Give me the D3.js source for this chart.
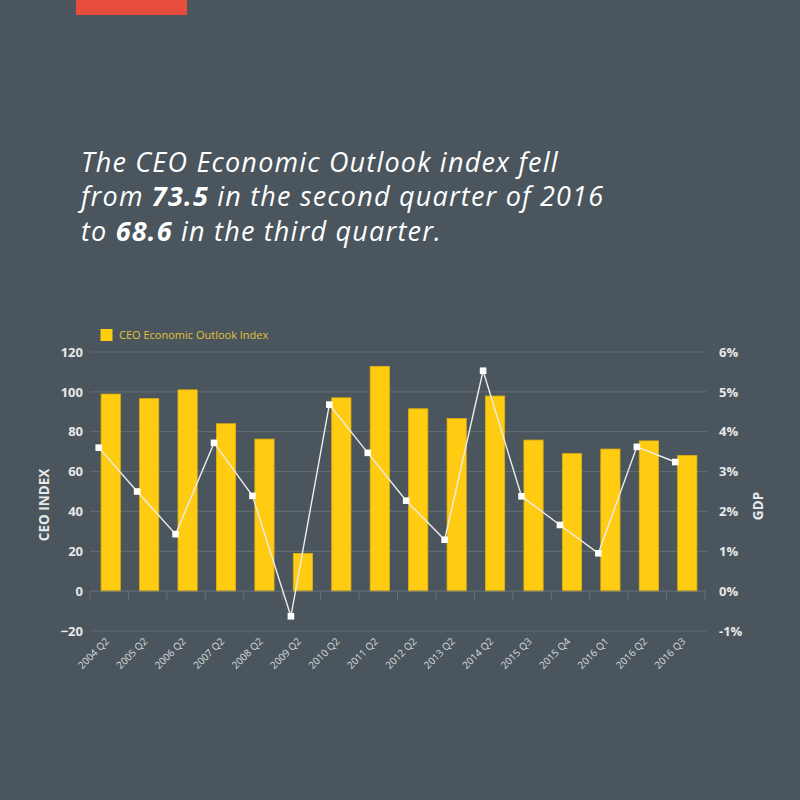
<!DOCTYPE html>
<html>
<head>
<meta charset="utf-8">
<script src="https://cdn.jsdelivr.net/npm/d3@7"></script>
<style>
  html, body { margin: 0; padding: 0; background: #4a555d; }
  svg { display: block; font-family: "Open Sans", sans-serif; }
</style>
</head>
<body>
<svg id="chart" width="800" height="800"></svg>
<script>
// data
const quarters = ["2004 Q2", "2005 Q2", "2006 Q2", "2007 Q2", "2008 Q2", "2009 Q2", "2010 Q2", "2011 Q2",
  "2012 Q2", "2013 Q2", "2014 Q2", "2015 Q3", "2015 Q4", "2016 Q1", "2016 Q2", "2016 Q3"];
const ceoIndex = [98.9, 96.6, 101.0, 84.0, 76.3, 18.9, 97.0, 112.8, 91.5, 86.6, 97.9, 75.8, 69.0, 71.3, 75.4, 68.1];
const gdp = [3.6, 2.5, 1.43, 3.72, 2.39, -0.63, 4.68, 3.47, 2.27, 1.29, 5.53, 2.38, 1.66, 0.95, 3.62, 3.24];
const leftTicks = [-20, 0, 20, 40, 60, 80, 100, 120];
const rightTicks = [-1, 0, 1, 2, 3, 4, 5, 6];
const legendLabel = "CEO Economic Outlook Index";

const svg = d3.select("#chart");

// red tab at the top
svg.append("rect")
  .attr("x", 76).attr("y", 0)
  .attr("width", 111).attr("height", 15)
  .attr("fill", "#e84c3d");

// headline
const lines = [
  [["The CEO Economic Outlook index fell", false]],
  [["from ", false], ["73.5", true], [" in the second quarter of 2016", false]],
  [["to ", false], ["68.6", true], [" in the third quarter.", false]]
];
lines.forEach((parts, i) => {
  const t = svg.append("text")
    .attr("x", 81).attr("y", 172 + i * 34.4)
    .attr("fill", "#ffffff")
    .style("font-size", "27px")
    .style("font-style", "italic")
    .style("letter-spacing", "1.2px");
  parts.forEach(p => {
    t.append("tspan").text(p[0]).style("font-weight", p[1] ? 700 : 400);
  });
});

// chart area
const x = d3.scaleBand().domain(quarters).range([91.5, 706.5]).paddingInner(0.5).paddingOuter(0.25);
const yL = d3.scaleLinear().domain([-20, 120]).range([631, 352]);
const yR = d3.scaleLinear().domain([-1, 6]).range([631, 352]);

const grid = svg.append("g");
grid.selectAll("line")
  .data(leftTicks.filter(d => d !== 0))
  .enter().append("line")
  .attr("x1", 90).attr("x2", 707)
  .attr("y1", d => yL(d)).attr("y2", d => yL(d))
  .attr("stroke", "#5f6a72").attr("stroke-width", 1.2);

// left axis labels
const leftAxis = svg.append("g")
  .attr("transform", "translate(83,0)")
  .call(d3.axisLeft(yL).tickValues(leftTicks).tickSize(0).tickPadding(0));
leftAxis.select(".domain").remove();
leftAxis.selectAll("text")
  .attr("fill", "#e8e8e8")
  .style("font-size", "13px").style("font-weight", 700)
  .style("font-family", "Open Sans, sans-serif");

// right axis labels
const rightAxis = svg.append("g")
  .attr("transform", "translate(719,0)")
  .call(d3.axisRight(yR).tickValues(rightTicks).tickSize(0).tickPadding(0).tickFormat(d => d + "%"));
rightAxis.select(".domain").remove();
rightAxis.selectAll("text")
  .attr("fill", "#e8e8e8")
  .style("font-size", "13px").style("font-weight", 700)
  .style("font-family", "Open Sans, sans-serif");

// axis titles
svg.append("text")
  .attr("transform", "translate(49,505) rotate(-90)")
  .attr("text-anchor", "middle")
  .attr("fill", "#e8e8e8")
  .style("font-size", "13.5px").style("font-weight", 700)
  .text("CEO INDEX");
svg.append("text")
  .attr("transform", "translate(763,506) rotate(-90)")
  .attr("text-anchor", "middle")
  .attr("fill", "#e8e8e8")
  .style("font-size", "13.5px").style("font-weight", 700)
  .text("GDP");

// bars
svg.append("g").selectAll("rect")
  .data(ceoIndex)
  .enter().append("rect")
  .attr("x", (d, i) => x(quarters[i]))
  .attr("width", x.bandwidth())
  .attr("y", d => yL(d))
  .attr("height", d => yL(0) - yL(d))
  .attr("fill", "#ffcc11")
  .attr("stroke", "#e0b10e").attr("stroke-width", 0.8);

// bottom axis with ticks between bars
const step = x.step();
const xAxis = svg.append("g")
  .attr("transform", `translate(0,${yL(0)})`)
  .call(d3.axisBottom(x).tickSize(0).tickFormat(""));
xAxis.select(".domain").attr("stroke", "#66717a").attr("d", "M90,0H705");
xAxis.selectAll(".tick").remove();
xAxis.selectAll(".sep")
  .data(d3.range(quarters.length + 1))
  .enter().append("line")
  .attr("x1", i => 90 + i * step).attr("x2", i => 90 + i * step)
  .attr("y1", 0).attr("y2", 9)
  .attr("stroke", "#66717a");

// rotated category labels
svg.append("g").selectAll("text")
  .data(quarters)
  .enter().append("text")
  .attr("transform", d => `translate(${x(d) + x.bandwidth() / 2 - 1},642) rotate(-45)`)
  .attr("text-anchor", "end")
  .attr("fill", "#d8dcdf")
  .style("font-size", "10px")
  .text(d => d);

// GDP line (points sit a little left of the bar centres)
const px = i => x(quarters[i]) + x.bandwidth() / 2 - 12;
const line = d3.line()
  .x((d, i) => px(i))
  .y(d => yR(d));
svg.append("path")
  .datum(gdp)
  .attr("d", line)
  .attr("fill", "none")
  .attr("stroke", "#ececec").attr("stroke-width", 1.4);
svg.append("g").selectAll("rect")
  .data(gdp)
  .enter().append("rect")
  .attr("x", (d, i) => px(i) - 3.3)
  .attr("y", d => yR(d) - 3.3)
  .attr("width", 6.6).attr("height", 6.6)
  .attr("fill", "#ffffff");

// legend
svg.append("rect")
  .attr("x", 100.5).attr("y", 329)
  .attr("width", 12).attr("height", 12)
  .attr("fill", "#ffcc11");
svg.append("text")
  .attr("x", 119).attr("y", 339)
  .attr("fill", "#e3c23a")
  .style("font-size", "11px")
  .text(legendLabel);
</script>
</body>
</html>
